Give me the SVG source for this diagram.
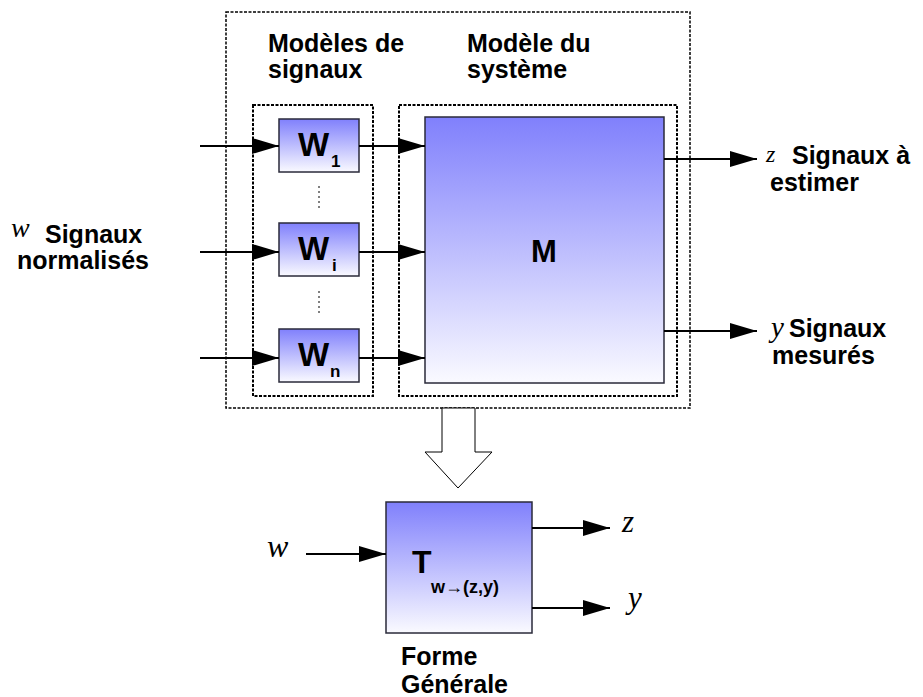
<svg xmlns="http://www.w3.org/2000/svg" width="923" height="697" viewBox="0 0 923 697">
<defs>
<linearGradient id="g" x1="0" y1="0" x2="0" y2="1">
<stop offset="0" stop-color="#8080fc"/>
<stop offset="1" stop-color="#fafaff"/>
</linearGradient>
<marker id="ah" markerUnits="userSpaceOnUse" markerWidth="27" markerHeight="16" refX="27" refY="8" orient="auto" viewBox="0 0 27 16">
<path d="M0,0 L27,8 L0,16 z" fill="#000"/>
</marker>
</defs>
<style>
.box{fill:url(#g);stroke:#2a2a3a;stroke-width:1.5}
.dot{fill:none;stroke:#000;stroke-width:2;stroke-dasharray:3 1.5}
.dot2{fill:none;stroke:#000;stroke-width:1.5;stroke-dasharray:3 1.5}
.ln{stroke:#000;stroke-width:2;fill:none;marker-end:url(#ah)}
.b{font-family:"Liberation Sans",Arial,sans-serif;font-weight:bold;fill:#000}
.m{font-family:"Liberation Serif","Times New Roman",serif;font-style:italic;fill:#000}
</style>
<g id="frame-outer"><rect class="dot2" x="226" y="12" width="464" height="396"/></g>
<g id="frame-signals"><rect class="dot" x="253" y="105" width="120" height="291"/></g>
<g id="frame-system"><rect class="dot" x="399" y="105" width="278" height="291"/></g>
<g id="titles">
<text class="b" font-size="25" x="268" y="52">Modèles de</text>
<text class="b" font-size="25" x="268" y="78">signaux</text>
<text class="b" font-size="25" x="467" y="52">Modèle du</text>
<text class="b" font-size="25" x="467" y="78">système</text>
</g>
<g id="W1"><rect class="box" x="279" y="119" width="80" height="53"/>
<text class="b" font-size="33" x="298" y="156">W</text><text class="b" font-size="17" x="331" y="167">1</text></g>
<g id="Wi"><rect class="box" x="279" y="223" width="80" height="53"/>
<text class="b" font-size="33" x="298" y="260">W</text><text class="b" font-size="17" x="332" y="271">i</text></g>
<g id="Wn"><rect class="box" x="279" y="329" width="80" height="53"/>
<text class="b" font-size="33" x="298" y="366">W</text><text class="b" font-size="17" x="330" y="377">n</text></g>
<g id="dots">
<line x1="319" y1="186" x2="319" y2="208" stroke="#000" stroke-width="1" stroke-dasharray="2 3"/>
<line x1="319" y1="291" x2="319" y2="314" stroke="#000" stroke-width="1" stroke-dasharray="2 3"/>
</g>
<g id="M"><rect class="box" x="425" y="117" width="239" height="266"/>
<text class="b" font-size="31" x="544" y="262" text-anchor="middle">M</text></g>
<g id="T"><rect class="box" x="386" y="502" width="146" height="131"/>
<text class="b" font-size="32" x="412" y="573">T</text>
<text class="b" font-size="18" x="431" y="593">w→(z,y)</text></g>
<g id="connectors">
<line class="ln" x1="200" y1="146" x2="279" y2="146"/>
<line class="ln" x1="200" y1="252" x2="279" y2="252"/>
<line class="ln" x1="200" y1="358" x2="279" y2="358" stroke-width="3"/>
<line class="ln" x1="359" y1="146" x2="425" y2="146"/>
<line class="ln" x1="359" y1="252" x2="425" y2="252"/>
<line class="ln" x1="359" y1="358" x2="425" y2="358" stroke-width="3"/>
<line class="ln" x1="664" y1="159" x2="757" y2="159" stroke-width="3"/>
<line class="ln" x1="664" y1="331" x2="757" y2="331" stroke-width="1.5"/>
<line class="ln" x1="306" y1="554" x2="386" y2="554" stroke-width="1.5"/>
<line class="ln" x1="532" y1="528" x2="610" y2="528" stroke-width="1.5"/>
<line class="ln" x1="532" y1="608" x2="610" y2="608" stroke-width="3"/>
<polygon points="442,408 475,408 475,452 492,452 458,488 425,452 442,452" fill="#fff" stroke="#000" stroke-width="1"/>
</g>
<g id="labels">
<text class="m" font-size="28" x="11" y="237">w</text>
<text class="b" font-size="25" x="45" y="243">Signaux</text>
<text class="b" font-size="25" x="17" y="269">normalisés</text>
<text class="m" font-size="24" x="766" y="162">z</text>
<text class="b" font-size="25" x="792" y="164">Signaux à</text>
<text class="b" font-size="25" x="770" y="191">estimer</text>
<text class="m" font-size="29" x="771" y="337">y</text>
<text class="b" font-size="25" x="789" y="337">Signaux</text>
<text class="b" font-size="25" x="772" y="364">mesurés</text>
<text class="m" font-size="32" x="267" y="557">w</text>
<text class="m" font-size="31" x="622" y="532">z</text>
<text class="m" font-size="31" x="628" y="608">y</text>
<text class="b" font-size="25" x="401" y="665">Forme</text>
<text class="b" font-size="25" x="401" y="693">Générale</text>
</g>
</svg>
